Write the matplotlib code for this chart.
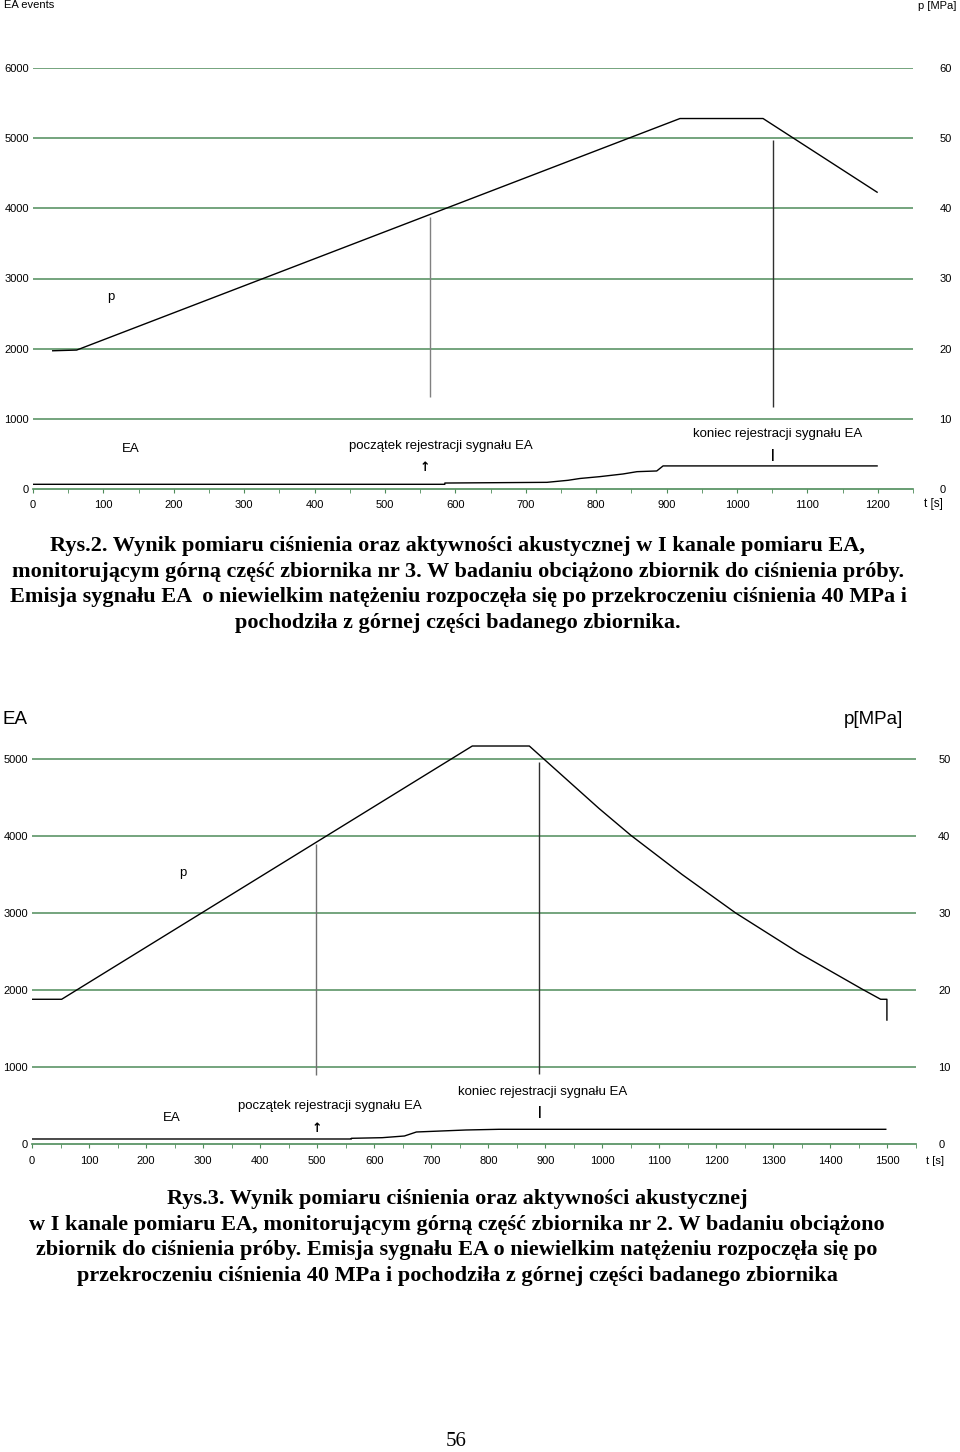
import matplotlib
matplotlib.use("Agg")
import matplotlib.pyplot as plt
from matplotlib.ticker import MultipleLocator

# ---- Rys.2 data (EA events vs pressure, tank nr 3)
t2_p = [28, 62, 919, 1037, 1199]
p2 = [19.7, 19.8, 52.8, 52.8, 42.3]
t2_ea = [0, 585, 585, 730, 760, 777, 805, 838, 858, 886, 895, 1199]
ea2 = [67, 67, 85, 95, 124, 150, 176, 214, 247, 257, 329, 329]
hits2_t = [564, 1051]
hits2_top = [3870, 4970]
hits2_bot = [1310, 1170]

# ---- Rys.3 data (tank nr 2)
t3_p = [1, 52, 772, 872, 994, 1050, 1140, 1234, 1345, 1456, 1488, 1499, 1499]
p3 = [18.8, 18.8, 51.7, 51.7, 43.6, 40.1, 35.0, 30.0, 24.8, 20.1, 18.8, 18.8, 16.1]
t3_ea = [1, 560, 560, 614, 653, 674, 761, 819, 1497]
ea3 = [65, 65, 74, 82, 104, 156, 182, 191, 191]
hits3_t = [498, 889]
hits3_top = [3896, 4961]
hits3_bot = [896, 909]

ea_ticks2 = [0, 1000, 2000, 3000, 4000, 5000, 6000]
p_ticks2 = [0, 10, 20, 30, 40, 50, 60]
ea_ticks3 = [0, 1000, 2000, 3000, 4000, 5000]
p_ticks3 = [0, 10, 20, 30, 40, 50]

caption2 = [
    "Rys.2. Wynik pomiaru ciśnienia oraz aktywności akustycznej w I kanale pomiaru EA,",
    "monitorującym górną część zbiornika nr 3. W badaniu obciążono zbiornik do ciśnienia próby.",
    "Emisja sygnału EA  o niewielkim natężeniu rozpoczęła się po przekroczeniu ciśnienia 40 MPa i",
    "pochodziła z górnej części badanego zbiornika.",
]
caption3 = [
    "Rys.3. Wynik pomiaru ciśnienia oraz aktywności akustycznej",
    "w I kanale pomiaru EA, monitorującym górną część zbiornika nr 2. W badaniu obciążono",
    "zbiornik do ciśnienia próby. Emisja sygnału EA o niewielkim natężeniu rozpoczęła się po",
    "przekroczeniu ciśnienia 40 MPa i pochodziła z górnej części badanego zbiornika",
]

W, H = 960, 1452
GREEN = "#4e8c5a"
SANS = ["Liberation Sans", "DejaVu Sans"]
NARROW = ["Liberation Sans Narrow", "Liberation Sans", "DejaVu Sans"]
SERIF = ["Liberation Serif", "DejaVu Serif"]

fig = plt.figure(figsize=(W / 100, H / 100), dpi=100)


def box(x0, y_top, x1, y_bot):
    return [x0 / W, 1 - y_bot / H, (x1 - x0) / W, (y_bot - y_top) / H]


def txt(x, y, s, **kw):
    kw.setdefault("ha", "center")
    kw.setdefault("va", "center")
    fig.text(x / W, 1 - y / H, s, **kw)


def panel(rect, xlim, ylim, ea_ticks, p_ticks, font, rpad, xpad):
    ax = fig.add_axes(rect)
    ax.set_xlim(xlim)
    ax.set_ylim(ylim)
    for s in ["top", "right", "left"]:
        ax.spines[s].set_visible(False)
    ax.spines["bottom"].set_color(GREEN)
    ax.spines["bottom"].set_linewidth(1.2)
    for v in ea_ticks[1:]:
        ax.axhline(v, color=GREEN, lw=1.1, zorder=1)
    ax.xaxis.set_major_locator(MultipleLocator(100))
    ax.xaxis.set_minor_locator(MultipleLocator(50))
    ax.tick_params(axis="x", which="both", length=3, color=GREEN, pad=xpad,
                   labelsize=8)
    ax.set_yticks(ea_ticks)
    ax.tick_params(axis="y", length=0, pad=3, labelsize=8)
    ax2 = ax.twinx()
    ax2.set_ylim(ylim[0] / 100, ylim[1] / 100)
    ax2.set_yticks(p_ticks)
    ax2.tick_params(axis="y", length=0, pad=rpad, labelsize=8)
    for s in ax2.spines.values():
        s.set_visible(False)
    for lab in ax.get_xticklabels() + ax.get_yticklabels() + ax2.get_yticklabels():
        lab.set_family(font)
    return ax, ax2


# ---- Rys.2 chart
a, b = panel(box(33, 68, 913, 489), (0, 1250), (0, 6000), ea_ticks2, p_ticks2,
             SANS, 19, 5)
a.xaxis.set_major_formatter(lambda v, pos: "%d" % v if v <= 1200 else "")
b.plot(t2_p, p2, color="black", lw=1)
a.plot(t2_ea, ea2, color="black", lw=1)
a.vlines(hits2_t, hits2_bot, hits2_top, color=["#808080", "#303030"], lw=1)

txt(4, 5, "EA events", ha="left", fontsize=8, family=SANS)
txt(937, 6, "p [MPa]", fontsize=8, family=SANS)
txt(111, 297, "p", fontsize=9.5, family=SANS)
txt(131, 449, "EA", fontsize=9.5, family=SANS)
txt(441, 446, "początek rejestracji sygnału EA", fontsize=9.5, family=SANS)
txt(425, 467, "↑", fontsize=9, fontweight="bold", family=["DejaVu Sans"])
txt(778, 434, "koniec rejestracji sygnału EA", fontsize=9.5, family=SANS)
txt(773, 455, "|", fontsize=9, fontweight="bold", family=SANS)
txt(933, 504, "t [s]", fontsize=8.5, family=SANS)

# ---- Rys.3 chart
a, b = panel(box(32, 736, 916, 1144), (0, 1550), (0, 5300), ea_ticks3, p_ticks3,
             NARROW, 16, 6)
a.xaxis.set_major_formatter(lambda v, pos: "%d" % v if v <= 1500 else "")
b.plot(t3_p, p3, color="black", lw=1)
a.plot(t3_ea, ea3, color="black", lw=1)
a.vlines(hits3_t, hits3_bot, hits3_top, color=["#707070", "#303030"], lw=1)

txt(2, 720, "EA", ha="left", fontsize=13.5, family=SANS)
txt(873, 720, "p[MPa]", fontsize=13.5, family=SANS)
txt(183, 873, "p", fontsize=9.5, family=NARROW)
txt(172, 1118, "EA", fontsize=9.5, family=NARROW)
txt(330, 1106, "początek rejestracji sygnału EA", fontsize=9.5, family=NARROW)
txt(317, 1128, "↑", fontsize=9, fontweight="bold", family=["DejaVu Sans"])
txt(543, 1092, "koniec rejestracji sygnału EA", fontsize=9.5, family=NARROW)
txt(540, 1112, "|", fontsize=9, fontweight="bold", family=SANS)
txt(935, 1161, "t [s]", fontsize=8, family=NARROW)

# ---- captions
for i, line in enumerate(caption2):
    txt(458, 546 + i * 25.7, line, fontsize=16, fontweight="bold", family=SERIF)
for i, line in enumerate(caption3):
    txt(457, 1199 + i * 25.7, line, fontsize=16, fontweight="bold", family=SERIF)
txt(456, 1441, "56", fontsize=15, family=SERIF)

fig.savefig("out.png", dpi=100)
